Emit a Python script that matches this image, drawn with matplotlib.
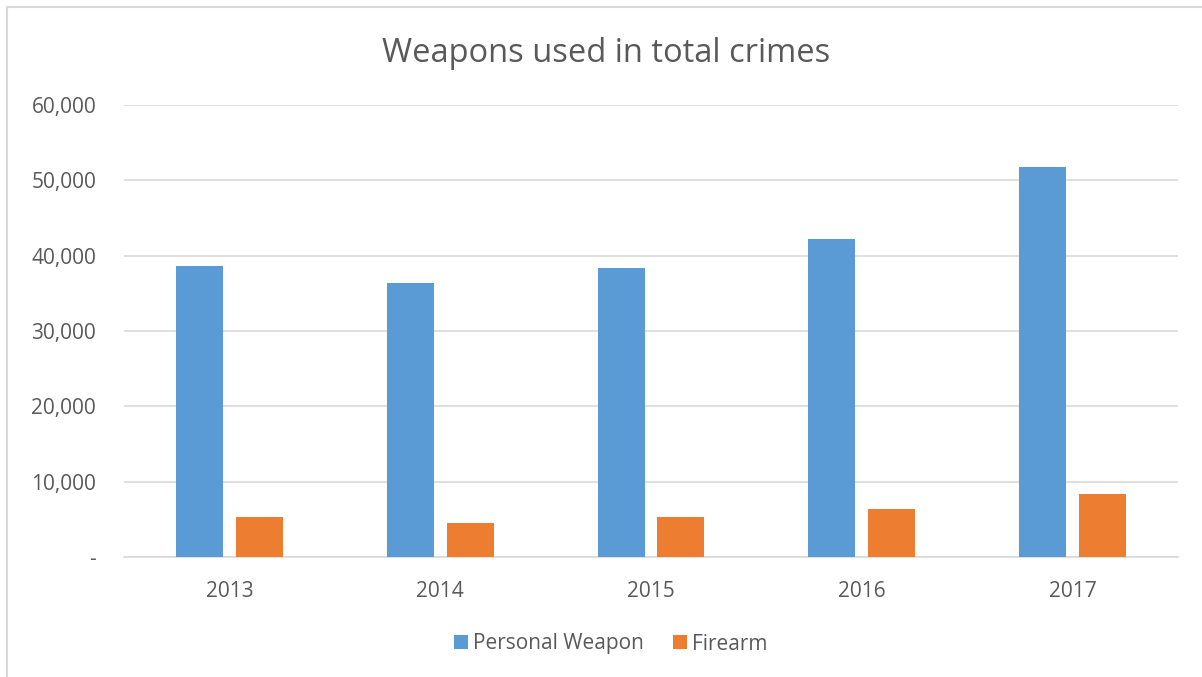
import matplotlib
matplotlib.use("Agg")
import matplotlib.pyplot as plt
import numpy as np
from matplotlib.patches import Rectangle

years = ["2013", "2014", "2015", "2016", "2017"]
personal_weapon = [38630, 36370, 38360, 42210, 51800]
firearm = [5310, 4510, 5310, 6370, 8400]

blue = "#5B9BD5"
orange = "#ED7D31"
text_color = "#595959"

plt.rcParams['font.family'] = ['Open Sans', 'DejaVu Sans']

fig = plt.figure(figsize=(12.02, 6.77), dpi=100)
W, H = 1202, 677
ax = fig.add_axes([124 / W, 1 - 557 / H, (1178 - 124) / W, (557 - 105) / H])

x = np.arange(len(years))
bw = 0.223
off = 0.142
ax.bar(x - off, personal_weapon, bw, color=blue, label="Personal Weapon", zorder=3)
ax.bar(x + off, firearm, bw, color=orange, label="Firearm", zorder=3)

ax.set_xlim(-0.5, len(years) - 0.5)
ax.set_ylim(0, 60000)
ax.set_yticks(range(0, 60001, 10000))
ax.set_yticklabels(["-"] + [f"{v:,}" for v in range(10000, 60001, 10000)])
ax.set_xticks(x)
ax.set_xticklabels(years)
ax.yaxis.grid(True, color="#D9D9D9", linewidth=1.2, zorder=0)
for s in ["top", "right", "left"]:
    ax.spines[s].set_visible(False)
ax.spines["bottom"].set_color("#D9D9D9")
ax.spines["bottom"].set_linewidth(1.2)
ax.tick_params(axis="both", length=0, labelsize=15, colors=text_color)
ax.tick_params(axis="y", pad=20)
ax.tick_params(axis="x", pad=17)

fig.text(606 / W, 1 - 62 / H, "Weapons used in total crimes", ha="center", va="baseline",
         fontsize=23.5, color=text_color)

leg = fig.legend(loc="center", bbox_to_anchor=(611 / W, 1 - 644 / H), ncol=2, frameon=False,
                 fontsize=15, handlelength=0.67, handleheight=0.67, columnspacing=1.4,
                 handletextpad=0.24)
for t in leg.get_texts():
    t.set_color(text_color)

fig.patches.append(Rectangle((7 / W, -0.05), 1.2, 1.05 - 7 / H,
                             transform=fig.transFigure, fill=False, edgecolor="#D9D9D9",
                             linewidth=1.5))

fig.savefig("out.png", dpi=100)
